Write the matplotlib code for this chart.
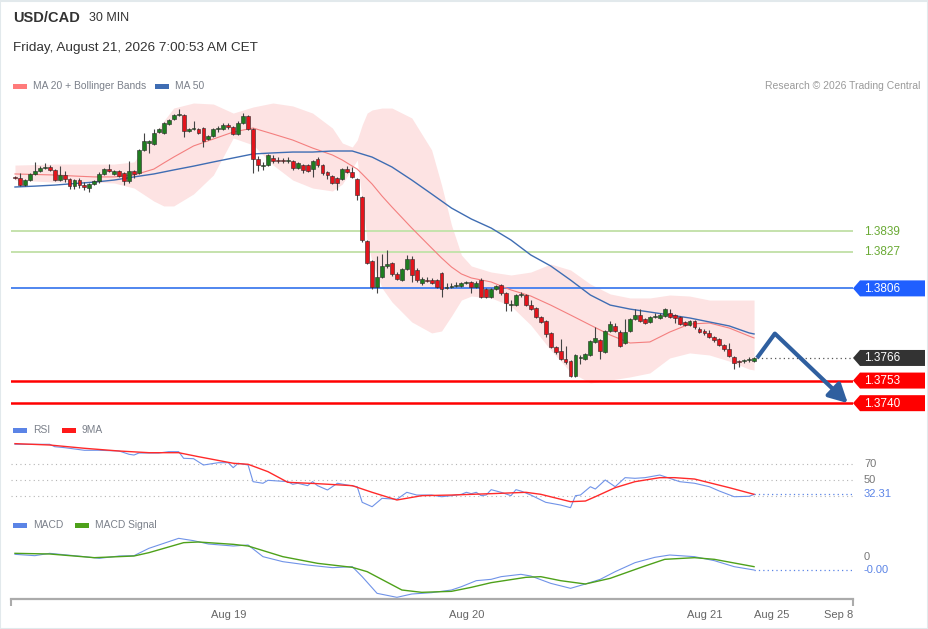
import matplotlib
matplotlib.use("Agg")
import matplotlib.pyplot as plt
from matplotlib.patches import Polygon, Rectangle
import numpy as np

plt.rcParams['font.family'] = ['Liberation Sans', 'DejaVu Sans']

W, H = 929, 629

# USD/CAD 30 min candles, first bar Aug 18 02:30
opens = [
    1.38701, 1.38695, 1.38654, 1.38683, 1.38718, 1.38735, 1.38752, 1.38758, 1.38741, 1.38683,
    1.38712, 1.38689, 1.38648, 1.38683, 1.38654, 1.38637, 1.38660, 1.38677, 1.38718, 1.38746,
    1.38718, 1.38735, 1.38724, 1.38677, 1.38735, 1.38724, 1.38856, 1.38896, 1.38890, 1.38959,
    1.38954, 1.39005, 1.39034, 1.39057, 1.39057, 1.38965, 1.38977, 1.38977, 1.38982, 1.38919,
    1.38936, 1.38977, 1.38977, 1.39000, 1.38988, 1.38948, 1.39011, 1.39051, 1.38977, 1.38804,
    1.38763, 1.38769, 1.38810, 1.38798, 1.38798, 1.38792, 1.38792, 1.38752, 1.38769, 1.38769,
    1.38746, 1.38804, 1.38769, 1.38729, 1.38706, 1.38695, 1.38689, 1.38746, 1.38729, 1.38689,
    1.38586, 1.38332, 1.38218, 1.38068, 1.38126, 1.38189, 1.38206, 1.38143, 1.38108, 1.38172,
    1.38229, 1.38166, 1.38091, 1.38108, 1.38108, 1.38108, 1.38149, 1.38062, 1.38068, 1.38074,
    1.38074, 1.38091, 1.38097, 1.38068, 1.38108, 1.38056, 1.38010, 1.38056, 1.38079, 1.38033,
    1.37964, 1.37964, 1.38022, 1.38022, 1.37964, 1.37947, 1.37895, 1.37872, 1.37803, 1.37723,
    1.37700, 1.37654, 1.37642, 1.37556, 1.37660, 1.37654, 1.37677, 1.37752, 1.37763, 1.37694,
    1.37815, 1.37844, 1.37809, 1.37746, 1.37815, 1.37884, 1.37907, 1.37884, 1.37867, 1.37895,
    1.37890, 1.37901, 1.37918, 1.37907, 1.37895, 1.37867, 1.37849, 1.37872, 1.37826, 1.37815,
    1.37803, 1.37781, 1.37769, 1.37735, 1.37712, 1.37665, 1.37642, 1.37642, 1.37648, 1.37642,
]
highs = [
    1.38706, 1.38724, 1.38689, 1.38724, 1.38786, 1.38763, 1.38781, 1.38769, 1.38746, 1.38763,
    1.38735, 1.38695, 1.38689, 1.38695, 1.38671, 1.38666, 1.38683, 1.38729, 1.38752, 1.38775,
    1.38741, 1.38741, 1.38729, 1.38792, 1.38741, 1.38862, 1.38954, 1.38913, 1.38977, 1.38982,
    1.39017, 1.39034, 1.39063, 1.39091, 1.39063, 1.38982, 1.39023, 1.38982, 1.38988, 1.38942,
    1.38982, 1.38994, 1.39011, 1.39011, 1.38994, 1.39023, 1.39068, 1.39057, 1.38982, 1.38821,
    1.38787, 1.38833, 1.38827, 1.38815, 1.38810, 1.38815, 1.38798, 1.38787, 1.38775, 1.38775,
    1.38798, 1.38815, 1.38775, 1.38735, 1.38712, 1.38701, 1.38752, 1.38763, 1.38758, 1.38695,
    1.38591, 1.38338, 1.38223, 1.38246, 1.38258, 1.38281, 1.38212, 1.38154, 1.38177, 1.38252,
    1.38246, 1.38177, 1.38126, 1.38126, 1.38120, 1.38114, 1.38154, 1.38091, 1.38091, 1.38097,
    1.38097, 1.38102, 1.38102, 1.38102, 1.38120, 1.38062, 1.38062, 1.38079, 1.38085, 1.38039,
    1.37993, 1.38028, 1.38039, 1.38028, 1.37993, 1.37953, 1.37901, 1.37878, 1.37809, 1.37729,
    1.37769, 1.37729, 1.37648, 1.37683, 1.37677, 1.37689, 1.37763, 1.37838, 1.37769, 1.37821,
    1.37872, 1.37861, 1.37821, 1.37884, 1.37890, 1.37941, 1.37941, 1.37890, 1.37901, 1.37918,
    1.37918, 1.37947, 1.37941, 1.37913, 1.37901, 1.37872, 1.37878, 1.37878, 1.37838, 1.37826,
    1.37821, 1.37786, 1.37775, 1.37740, 1.37746, 1.37671, 1.37648, 1.37654, 1.37665, 1.37665,
]
lows = [
    1.38689, 1.38648, 1.38648, 1.38677, 1.38712, 1.38729, 1.38746, 1.38735, 1.38677, 1.38677,
    1.38671, 1.38631, 1.38631, 1.38637, 1.38626, 1.38614, 1.38654, 1.38666, 1.38712, 1.38729,
    1.38712, 1.38701, 1.38654, 1.38666, 1.38695, 1.38718, 1.38850, 1.38839, 1.38884, 1.38954,
    1.38948, 1.39000, 1.39028, 1.39051, 1.38931, 1.38959, 1.38971, 1.38948, 1.38873, 1.38913,
    1.38931, 1.38959, 1.38971, 1.38977, 1.38942, 1.38942, 1.39005, 1.38971, 1.38724, 1.38735,
    1.38741, 1.38763, 1.38781, 1.38781, 1.38781, 1.38781, 1.38741, 1.38746, 1.38724, 1.38729,
    1.38701, 1.38758, 1.38712, 1.38689, 1.38660, 1.38626, 1.38683, 1.38724, 1.38695, 1.38568,
    1.38327, 1.38200, 1.38056, 1.38033, 1.38120, 1.38177, 1.38131, 1.38108, 1.38102, 1.38166,
    1.38097, 1.38097, 1.38079, 1.38097, 1.38085, 1.38062, 1.38010, 1.38056, 1.38062, 1.38068,
    1.38068, 1.38085, 1.38033, 1.38062, 1.38005, 1.38005, 1.38005, 1.38051, 1.38022, 1.37930,
    1.37930, 1.37959, 1.38010, 1.37959, 1.37936, 1.37890, 1.37861, 1.37780, 1.37717, 1.37683,
    1.37648, 1.37625, 1.37551, 1.37551, 1.37625, 1.37648, 1.37671, 1.37746, 1.37654, 1.37689,
    1.37809, 1.37809, 1.37723, 1.37740, 1.37809, 1.37878, 1.37867, 1.37855, 1.37861, 1.37890,
    1.37884, 1.37895, 1.37890, 1.37861, 1.37849, 1.37844, 1.37844, 1.37826, 1.37803, 1.37792,
    1.37775, 1.37752, 1.37729, 1.37700, 1.37665, 1.37596, 1.37608, 1.37631, 1.37637, 1.37637,
]
closes = [
    1.38695, 1.38654, 1.38683, 1.38718, 1.38735, 1.38752, 1.38758, 1.38741, 1.38683, 1.38712,
    1.38689, 1.38648, 1.38683, 1.38654, 1.38643, 1.38660, 1.38677, 1.38718, 1.38746, 1.38735,
    1.38735, 1.38706, 1.38677, 1.38735, 1.38718, 1.38856, 1.38907, 1.38907, 1.38954, 1.38977,
    1.39011, 1.39028, 1.39057, 1.39063, 1.38965, 1.38977, 1.38982, 1.38954, 1.38907, 1.38936,
    1.38977, 1.38982, 1.39000, 1.38988, 1.38948, 1.39011, 1.39051, 1.38977, 1.38804, 1.38769,
    1.38769, 1.38827, 1.38792, 1.38792, 1.38792, 1.38798, 1.38752, 1.38781, 1.38741, 1.38735,
    1.38792, 1.38769, 1.38724, 1.38712, 1.38666, 1.38666, 1.38746, 1.38729, 1.38701, 1.38597,
    1.38338, 1.38206, 1.38068, 1.38126, 1.38189, 1.38200, 1.38143, 1.38114, 1.38172, 1.38229,
    1.38137, 1.38108, 1.38114, 1.38102, 1.38091, 1.38068, 1.38056, 1.38068, 1.38074, 1.38079,
    1.38091, 1.38097, 1.38068, 1.38091, 1.38010, 1.38010, 1.38056, 1.38074, 1.38033, 1.37976,
    1.37970, 1.38022, 1.38028, 1.37964, 1.37941, 1.37895, 1.37867, 1.37797, 1.37723, 1.37694,
    1.37654, 1.37637, 1.37556, 1.37677, 1.37665, 1.37683, 1.37758, 1.37775, 1.37700, 1.37815,
    1.37855, 1.37815, 1.37729, 1.37809, 1.37884, 1.37907, 1.37872, 1.37861, 1.37895, 1.37901,
    1.37907, 1.37941, 1.37895, 1.37890, 1.37855, 1.37849, 1.37872, 1.37838, 1.37809, 1.37804,
    1.37781, 1.37763, 1.37735, 1.37712, 1.37671, 1.37631, 1.37637, 1.37648, 1.37654, 1.37660,
]

# MA 20 + Bollinger bands, read at these bars
band_idx = [0, 4, 8, 12, 16, 20, 24, 28, 30, 32, 36, 40, 44, 48, 52, 56, 60, 64, 66, 68,
            69, 70, 71, 72, 74, 76, 80, 84, 86, 88, 90, 92, 96, 100, 104, 108, 112, 116,
            120, 124, 128, 132, 136, 140, 144, 148, 149]
ma20 = [1.38718, 1.38715, 1.38712, 1.38706, 1.38701, 1.38701, 1.38712, 1.38746,
        1.38781, 1.38815, 1.38879, 1.38919, 1.38959, 1.38982, 1.38948, 1.38913,
        1.38867, 1.38827, 1.38798, 1.38763, 1.38746, 1.38718, 1.38689, 1.38660,
        1.38591, 1.38528, 1.38407, 1.38292, 1.38235, 1.38183, 1.38143, 1.38120,
        1.38097, 1.38051, 1.38016, 1.37964, 1.37907, 1.37849, 1.37792, 1.37746,
        1.37752, 1.37809, 1.37855, 1.37861, 1.37832, 1.37786, 1.37775]
bb_upper = [1.38769, 1.38772, 1.38775, 1.38775, 1.38775, 1.38775, 1.38787, 1.38942,
            1.39023, 1.39097, 1.39126, 1.39120, 1.39068, 1.39103, 1.39126, 1.39109,
            1.39068, 1.38982, 1.38896, 1.38873, 1.38913, 1.39000, 1.39068, 1.39086,
            1.39097, 1.39097, 1.39040, 1.38856, 1.38654, 1.38424, 1.38252, 1.38189,
            1.38154, 1.38137, 1.38154, 1.38200, 1.38166, 1.38085, 1.38028, 1.38005,
            1.38005, 1.38022, 1.38016, 1.37993, 1.37993, 1.37993, 1.37993]
bb_lower = [1.38683, 1.38677, 1.38671, 1.38671, 1.38671, 1.38666, 1.38637, 1.38562,
            1.38534, 1.38534, 1.38603, 1.38712, 1.38925, 1.38885, 1.38770, 1.38683,
            1.38637, 1.38620, 1.38660, 1.38752, 1.38798, 1.38568, 1.38338, 1.38212,
            1.38062, 1.37982, 1.37867, 1.37804, 1.37815, 1.37901, 1.37993, 1.38016,
            1.38005, 1.37959, 1.37849, 1.37706, 1.37579, 1.37516, 1.37533, 1.37551,
            1.37574, 1.37660, 1.37689, 1.37677, 1.37642, 1.37596, 1.37591]

ma50_idx = [0, 4, 8, 12, 16, 20, 24, 28, 32, 36, 40, 44, 48, 52, 56, 60, 64, 68, 72,
            76, 80, 84, 88, 92, 96, 100, 104, 108, 112, 116, 120, 124, 128, 132, 136,
            140, 144, 148, 149]
ma50 = [1.38643, 1.38648, 1.38654, 1.38663, 1.38671, 1.38683, 1.38701, 1.38718,
        1.38741, 1.38763, 1.38787, 1.38810, 1.38833, 1.38839, 1.38844, 1.38844,
        1.38850, 1.38850, 1.38815, 1.38758, 1.38683, 1.38603, 1.38522, 1.38459,
        1.38407, 1.38338, 1.38252, 1.38189, 1.38108, 1.38022, 1.37964, 1.37941,
        1.37924, 1.37907, 1.37890, 1.37867, 1.37844, 1.37804, 1.37798]

# key levels and the expected path
resistances = [1.3839, 1.3827]
pivot = 1.3806
supports = [1.3753, 1.3740]
path_idx = [149.6, 153.2, 167.9]
path_price = [1.3766, 1.3780, 1.3740]

# RSI and its 9 period average
rsi_idx = [0, 7, 8, 10, 14, 17, 21, 23, 24, 25, 29, 31, 33, 34, 36, 38, 41, 43, 44, 45,
           47, 48, 50, 51, 55, 56, 57, 59, 60, 61, 63, 65, 67, 69, 70, 72, 74, 77, 79, 81,
           84, 86, 88, 90, 91, 92, 93, 94, 95, 96, 98, 100, 101, 102, 104, 107, 110, 112,
           113, 114, 116, 117, 119, 121, 123, 125, 127, 130, 132, 134, 137, 140, 142, 145,
           148, 149]
rsi = [95.0, 95.0, 92.0, 90.8, 87.5, 87.5, 86.6, 82.5, 81.6, 84.1,
       84.1, 85.8, 85.8, 77.5, 77.0, 69.1, 72.0, 72.0, 65.8, 71.3,
       69.1, 48.3, 46.3, 50.0, 48.3, 45.0, 46.3, 43.3, 48.3, 43.3,
       37.9, 46.3, 44.1, 42.0, 22.5, 17.0, 27.5, 26.3, 35.0, 31.6,
       31.6, 29.5, 30.8, 32.5, 35.0, 33.3, 35.0, 30.8, 31.6, 38.3,
       35.0, 30.8, 38.3, 36.6, 31.6, 22.5, 19.1, 15.8, 30.8, 31.6,
       42.0, 39.1, 50.4, 42.0, 53.3, 52.5, 53.3, 56.6, 52.5, 48.3,
       46.3, 42.0, 36.6, 29.5, 30.0, 32.31]
rsi_ma_idx = [0, 7, 14, 21, 27, 33, 37, 44, 47, 51, 55, 61, 68, 72, 77, 82, 88, 96, 103,
              106, 112, 115, 117, 121, 125, 130, 133, 137, 144, 149]
rsi_ma = [95.8, 94.1, 90.0, 86.6, 84.5, 84.5, 79.5, 71.3, 70.0, 60.8,
          47.5, 45.8, 43.3, 35.0, 25.4, 30.8, 31.6, 33.3, 35.0, 32.5,
          23.3, 24.1, 29.5, 40.8, 48.3, 53.3, 53.3, 51.6, 40.8, 32.5]
rsi_levels = [70, 50, 30]

# MACD and signal
macd_idx = [0, 4, 7, 14, 17, 21, 24, 27, 33, 36, 39, 44, 47, 50, 54, 59, 64, 68, 70, 73,
            77, 80, 84, 88, 90, 92, 93, 96, 98, 102, 104, 108, 112, 115, 118, 121, 125,
            129, 132, 137, 141, 145, 149]
macd = [0.00008, 0.00004, 0.00011, 0.00001, -0.00004, 0.00003, 0.00004, 0.00026, 0.00056, 0.00049,
        0.00039, 0.00033, 0.00036, 0.00001, -0.00014, -0.00024, -0.00032, -0.00029, -0.00059, -0.00109,
        -0.00121, -0.00111, -0.00107, -0.00099, -0.00089, -0.00077, -0.00071, -0.00067, -0.00059, -0.00052,
        -0.00057, -0.00079, -0.00094, -0.00081, -0.00067, -0.00044, -0.00017, -0.00001, 0.00006, 0.00001,
        -0.00011, -0.00029, -0.00039]
signal_idx = [0, 7, 16, 24, 27, 34, 37, 44, 47, 54, 61, 68, 71, 78, 82, 88, 92, 96, 103,
              106, 110, 115, 120, 127, 131, 137, 141, 149]
signal = [0.00011, 0.00009, -0.00002, 0.00003, 0.00013, 0.00043, 0.00045, 0.00038, 0.00033, 0.00001,
          -0.00019, -0.00031, -0.00044, -0.00099, -0.00106, -0.00103, -0.00091, -0.00077, -0.00061, -0.00059,
          -0.00071, -0.00081, -0.00064, -0.00027, -0.00007, -0.00002, -0.00007, -0.00029]

tick_pos = [43, 91, 139, 152.5, 166]
tick_labels = ['Aug 19', 'Aug 20', 'Aug 21', 'Aug 25', 'Sep 8']

XLIM = (-0.8, 168.95)


def rect(x0, y0, x1, y1):
    return [x0 / W, 1 - y1 / H, (x1 - x0) / W, (y1 - y0) / H]


def bare(a):
    for s in a.spines.values():
        s.set_visible(False)
    a.set_xticks([])
    a.set_yticks([])
    a.set_xlim(*XLIM)
    a.patch.set_alpha(0)


fig = plt.figure(figsize=(W / 100, H / 100), dpi=100)
fig.patch.set_facecolor('white')

ax = fig.add_axes(rect(11, 95, 853, 415))
rsi_ax = fig.add_axes(rect(11, 425, 853, 512))
macd_ax = fig.add_axes(rect(11, 515, 853, 599))
ov = fig.add_axes([0, 0, 1, 1], zorder=10)
ov.set_xlim(0, W)
ov.set_ylim(H, 0)
ov.axis('off')
ov.patch.set_alpha(0)

for a in (ax, rsi_ax, macd_ax):
    bare(a)
ax.set_ylim(1.37332, 1.39172)
rsi_ax.set_ylim(10.4, 119.1)
macd_ax.set_ylim(-0.00126, 0.00126)

# ---- price panel
ax.fill_between(band_idx, bb_lower, bb_upper, color='#fde3e3', lw=0, zorder=1)
for v in resistances:
    ax.axhline(v, color='#c5e2ac', lw=1.4, zorder=1.5)
ax.axhline(pivot, color='#4f86ef', lw=1.4, zorder=1.5)
for v in supports:
    ax.axhline(v, color='#ff0000', lw=1.8, zorder=1.5)
ax.plot(band_idx, ma20, color='#f47f7f', lw=0.8, zorder=2)
ax.plot(ma50_idx, ma50, color='#3f6db3', lw=1.0, zorder=2)

idx = np.arange(len(closes))
o = np.array(opens)
c = np.array(closes)
colors = np.where(c >= o, '#1f7d20', '#e3141c')
ax.vlines(idx, lows, highs, color='#444444', lw=0.8, zorder=3)
ax.bar(idx, np.maximum(np.abs(c - o), 0.00003), bottom=np.minimum(o, c), width=0.78,
       color=colors, edgecolor='#2a2a2a', linewidth=0.4, zorder=4)
ax.hlines(closes[-1], idx[-1] + 0.6, XLIM[1], colors='#555555',
          linestyles=(0, (1, 2.5)), lw=0.9, zorder=2)

ax.plot(path_idx[:2], path_price[:2], color='#2f5f9f', lw=3.0, solid_capstyle='butt', zorder=6)
ax.annotate('', xy=(path_idx[2], path_price[2]), xytext=(path_idx[1], path_price[1]),
            arrowprops=dict(arrowstyle='-|>,head_length=0.8,head_width=0.42', color='#2f5f9f',
                            lw=3.0, mutation_scale=14, shrinkA=0, shrinkB=0), zorder=6)

# ---- RSI panel
for v in rsi_levels:
    rsi_ax.axhline(v, color='#b5b5b5', lw=0.8, ls=(0, (1, 3)))
rsi_ax.plot(rsi_idx, rsi, color='#7093e8', lw=0.8)
rsi_ax.plot(rsi_ma_idx, rsi_ma, color='#ff2a2a', lw=1.0)
rsi_ax.hlines(rsi[-1], rsi_idx[-1], XLIM[1], colors='#5b84e6', linestyles=(0, (1, 2.5)), lw=0.9)

# ---- MACD panel
macd_ax.plot(macd_idx, macd, color='#7093e8', lw=0.8)
macd_ax.plot(signal_idx, signal, color='#4ea11a', lw=1.0)
macd_ax.hlines(macd[-1], macd_idx[-1], XLIM[1], colors='#5b84e6', linestyles=(0, (1, 2.5)), lw=0.9)
macd_ax.spines['bottom'].set_visible(True)
macd_ax.spines['bottom'].set_color('#ababab')
macd_ax.spines['bottom'].set_linewidth(1.6)
macd_ax.set_xticks(tick_pos)
macd_ax.set_xticklabels(tick_labels, fontsize=8, color='#666666')
macd_ax.set_xticks(list(XLIM), minor=True)
macd_ax.tick_params(axis='x', which='major', length=0, pad=8)
macd_ax.tick_params(axis='x', which='minor', length=5, width=1.5, color='#ababab')


def ov_y(a, v):
    return ov.transData.inverted().transform(a.transData.transform((0, v)))[1]


def badge(y, text, fc):
    pts = [(853, y), (860, y - 8), (925, y - 8), (925, y + 8), (860, y + 8)]
    ov.add_patch(Polygon(pts, closed=True, fc=fc, ec='none'))
    ov.text(864, y + 0.5, text, color='white', fontsize=8.5, va='center', ha='left')


for v in resistances:
    ov.text(864, ov_y(ax, v) + 0.5, f'{v:.4f}', color='#6aaa35', fontsize=8.5, va='center')
badge(ov_y(ax, pivot), f'{pivot:.4f}', '#1f5fff')
badge(ov_y(ax, closes[-1]), f'{closes[-1]:.4f}', '#333333')
for v in supports:
    badge(ov_y(ax, v), f'{v:.4f}', '#ff0000')

for v in rsi_levels[:2]:
    ov.text(864, ov_y(rsi_ax, v), f'{v}', color='#777777', fontsize=8, va='center')
ov.text(864, ov_y(rsi_ax, rsi[-1]), f'{rsi[-1]:.2f}', color='#5b84e6', fontsize=8, va='center')
ov.text(864, ov_y(macd_ax, 0), '0', color='#777777', fontsize=8, va='center')
ov.text(864, ov_y(macd_ax, macd[-1]), f'{macd[-1]:.2f}', color='#5b84e6', fontsize=8, va='center')

# ---- header and legends
ov.text(13, 18, 'USD/CAD', fontsize=10.5, fontweight='bold', color='#333333', va='center')
ov.text(89, 18, '30 MIN', fontsize=9, color='#333333', va='center')
ov.text(13, 48, 'Friday, August 21, 2026 7:00:53 AM CET', fontsize=9.7, color='#333333', va='center')
ov.text(920, 86, 'Research \u00a9 2026 Trading Central', fontsize=7.5, color='#9a9a9a',
        va='center', ha='right')


def legend(x, y, color, text):
    ov.add_patch(Rectangle((x, y - 2.5), 14, 5, fc=color, ec='none'))
    ov.text(x + 20, y, text, fontsize=7.4, color='#7b808a', va='center')


legend(13, 86, '#ff7b7b', 'MA 20 + Bollinger Bands')
legend(155, 86, '#3f6db3', 'MA 50')
legend(13, 430, '#5b84e6', 'RSI')
legend(62, 430, '#ff1a1a', '9MA')
legend(13, 525, '#5b84e6', 'MACD')
legend(75, 525, '#4ea11a', 'MACD Signal')

ov.add_patch(Rectangle((0.5, 0.5), W - 1, H - 1, fill=False, ec='#e2e9ec', lw=1.5))

fig.savefig('out.png', dpi=100)
